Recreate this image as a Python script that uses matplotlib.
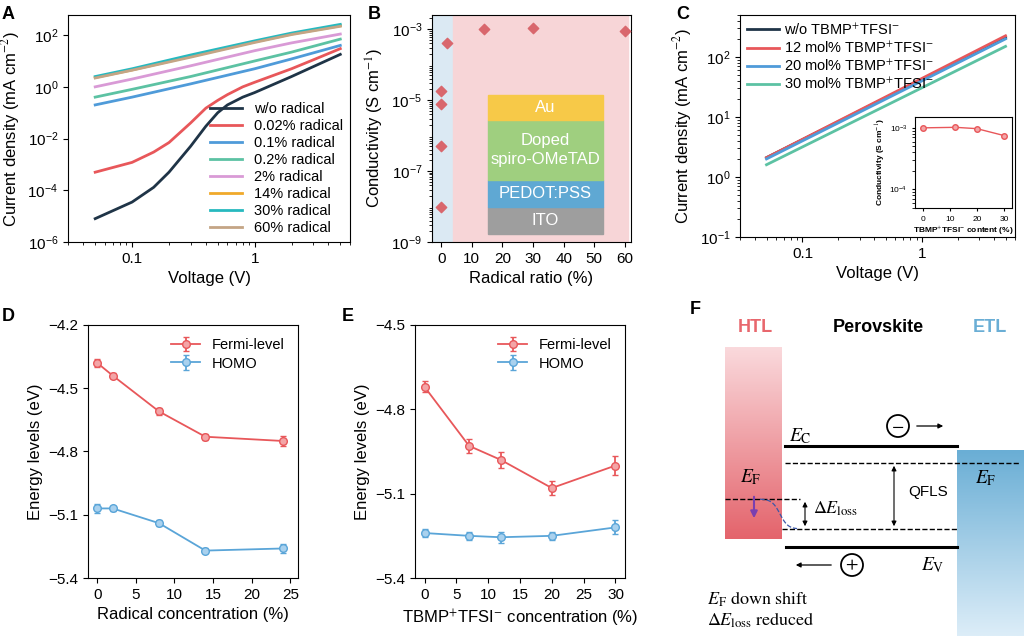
import numpy as np
import matplotlib
matplotlib.use('Agg')
import matplotlib.pyplot as plt
from matplotlib.patches import Rectangle, Circle

plt.rcParams['font.family'] = ['Liberation Sans', 'DejaVu Sans']
plt.rcParams['mathtext.fontset'] = 'stix'

# ---- panel A data
volt_a = [0.05, 0.1, 0.15, 0.2, 0.3, 0.4, 0.5, 0.6, 0.8, 1, 2, 3, 5]
j_wo = [8e-6, 3.5e-5, 1.3e-4, 5e-4, 5e-3, 3e-2, 0.1, 0.2, 0.4, 0.6, 2.5, 6, 18]
j_002 = [5e-4, 1.2e-3, 3e-3, 7e-3, 4e-2, 0.15, 0.3, 0.5, 1.0, 1.5, 5, 11, 30]
volt_lin = [0.05, 0.1, 0.3, 1, 2, 5]
j_01 = [0.2, 0.4, 1.3, 5, 12, 40]
j_02 = [0.4, 0.8, 2.5, 10, 22, 70]
j_2 = [1.0, 2.0, 6.5, 25, 50, 110]
j_14 = [2.3, 4.5, 15, 55, 110, 230]
j_30 = [2.5, 5.0, 17, 60, 120, 260]
j_60 = [2.2, 4.4, 14, 52, 105, 220]
labels_a = ['w/o radical', '0.02% radical', '0.1% radical', '0.2% radical',
            '2% radical', '14% radical', '30% radical', '60% radical']
colors_a = ['#1f3447', '#e8575a', '#4f9bd9', '#5cc2a3', '#d99ad6', '#f0a92a', '#27b9bf', '#c4a585']

# ---- panel B data
ratio_b = [0, 0, 0, 0, 2, 14, 30, 60]
cond_b = [1e-8, 5e-7, 8e-6, 1.8e-5, 4e-4, 1e-3, 1.1e-3, 9e-4]
layers = ['ITO', 'PEDOT:PSS', 'Doped\nspiro-OMeTAD', 'Au']
layer_colors = ['#9e9e9e', '#5fa8d3', '#9fcf7f', '#f7c948']

# ---- panel C data
volt_c = [0.05, 5]
jc_wo = [2.1, 210]
jc_12 = [2.1, 225]
jc_20 = [2.0, 200]
jc_30 = [1.6, 150]
labels_c = ['w/o TBMP$^{+}$TFSI$^{-}$', '12 mol% TBMP$^{+}$TFSI$^{-}$',
            '20 mol% TBMP$^{+}$TFSI$^{-}$', '30 mol% TBMP$^{+}$TFSI$^{-}$']
colors_c = ['#1f3447', '#e8575a', '#4f9bd9', '#5cc2a3']
inset_x = [0, 12, 20, 30]
inset_y = [1e-3, 1.02e-3, 9.7e-4, 7.5e-4]

# ---- panel D / E data
conc_d = [0, 2, 8, 14, 24]
fermi_d = [-4.38, -4.44, -4.61, -4.73, -4.75]
fermi_d_err = [0.02, 0.012, 0.018, 0.015, 0.025]
homo_d = [-5.07, -5.07, -5.14, -5.27, -5.26]
homo_d_err = [0.02, 0.012, 0.015, 0.01, 0.02]
conc_e = [0, 7, 12, 20, 30]
fermi_e = [-4.72, -4.93, -4.98, -5.08, -5.00]
fermi_e_err = [0.02, 0.025, 0.03, 0.025, 0.035]
homo_e = [-5.24, -5.25, -5.255, -5.25, -5.22]
homo_e_err = [0.015, 0.015, 0.02, 0.015, 0.025]

RED = '#e8575a'
BLUE = '#5aa5d8'

fig = plt.figure(figsize=(10.24, 6.36), dpi=100)


def ax_px(l, t, r, b):
    return fig.add_axes([l / 1024, 1 - b / 636, (r - l) / 1024, (b - t) / 636])


def letter(x, y, s):
    fig.text(x / 1024, 1 - y / 636, s, fontsize=13, fontweight='bold', va='top', ha='left')


# ---------------- A
ax = ax_px(68, 15, 350, 242)
ys = [j_wo, j_002, j_01, j_02, j_2, j_14, j_30, j_60]
for i, (y, lab, c) in enumerate(zip(ys, labels_a, colors_a)):
    xv = volt_a if i < 2 else volt_lin
    ax.plot(xv, y, color=c, lw=2, label=lab)
ax.set_xscale('log')
ax.set_yscale('log')
ax.set_xlim(0.03, 6)
ax.set_ylim(1e-6, 600)
ax.set_yticks([1e-6, 1e-4, 1e-2, 1, 1e2])
ax.set_xticks([0.1, 1])
ax.set_xticklabels(['0.1', '1'])
ax.set_xlabel('Voltage (V)', fontsize=12)
ax.set_ylabel('Current density (mA cm$^{-2}$)', fontsize=12)
ax.legend(loc='lower right', frameon=False, fontsize=10.5, handlelength=2.2,
          labelspacing=0.2, borderaxespad=0.1)
ax.tick_params(labelsize=11)
letter(2, 6, 'A')

# ---------------- B
ax = ax_px(432, 15, 631, 242)
ax.axvspan(-3, 4, color='#dbe9f3')
ax.axvspan(4, 61, color='#f7d5d7')
ax.scatter(ratio_b, cond_b, marker='D', s=28, color='#d9676d', zorder=3)
ax.set_yscale('log')
ax.set_xlim(-3, 62)
ax.set_ylim(1e-9, 2.5e-3)
ax.set_yticks([1e-9, 1e-7, 1e-5, 1e-3])
ax.set_xticks(range(0, 61, 10))
ax.set_xlabel('Radical ratio (%)', fontsize=12)
ax.set_ylabel('Conductivity (S cm$^{-1}$)', fontsize=12)
ax.tick_params(labelsize=11)
tops = [234, 207, 180, 120, 95]
for i, (name, c) in enumerate(zip(layers, layer_colors)):
    y0 = 1 - (tops[i] - 15) / 227
    y1 = 1 - (tops[i + 1] - 15) / 227
    x0 = (488 - 432) / 199
    x1 = (603 - 432) / 199
    ax.add_patch(Rectangle((x0, y0), x1 - x0, y1 - y0, transform=ax.transAxes,
                           color=c, zorder=4))
    ax.text((x0 + x1) / 2, (y0 + y1) / 2, name, transform=ax.transAxes, ha='center',
            va='center', color='white', fontsize=12, zorder=5, linespacing=1.3)
letter(368, 6, 'B')

# ---------------- C
ax = ax_px(740, 15, 1015, 237)
for y, lab, c in zip([jc_wo, jc_12, jc_20, jc_30], labels_c, colors_c):
    ax.plot(volt_c, y, color=c, lw=2, label=lab)
ax.set_xscale('log')
ax.set_yscale('log')
ax.set_xlim(0.03, 6)
ax.set_ylim(0.1, 500)
ax.set_xticks([0.1, 1])
ax.set_xticklabels(['0.1', '1'])
ax.set_xlabel('Voltage (V)', fontsize=12)
ax.set_ylabel('Current density (mA cm$^{-2}$)', fontsize=12)
ax.legend(loc='upper left', frameon=False, fontsize=10.5, handlelength=2.2,
          labelspacing=0.2, borderaxespad=0.1, handletextpad=0.3)
ax.tick_params(labelsize=11)
letter(676, 6, 'C')

ins = ax_px(915, 117, 1012, 208)
ins.plot(inset_x, inset_y, color=RED, marker='o', ms=4, mfc='#f3a5a7', lw=1)
ins.set_yscale('log')
ins.set_ylim(5e-5, 1.5e-3)
ins.set_xlim(-3, 33)
ins.set_yticks([1e-4, 1e-3])
ins.set_xticks([0, 10, 20, 30])
ins.tick_params(labelsize=6, length=2)
ins.set_xlabel('TBMP$^{+}$TFSI$^{-}$ content (%)', fontsize=6, fontweight='bold', labelpad=1)
ins.set_ylabel('Conductivity (S cm$^{-1}$)', fontsize=6, fontweight='bold', labelpad=1)


# ---------------- D, E
def energy(ax, x, f, fe, h, he, ylim, yt, xlim, xt, xlabel):
    ax.errorbar(x, f, yerr=fe, color=RED, marker='o', ms=5.5, mfc='#f3a5a7', lw=1.3,
                capsize=2, label='Fermi-level')
    ax.errorbar(x, h, yerr=he, color=BLUE, marker='o', ms=5.5, mfc='#a9d1ee', lw=1.3,
                capsize=2, label='HOMO')
    ax.set_ylim(*ylim)
    ax.set_yticks(yt)
    ax.set_xlim(*xlim)
    ax.set_xticks(xt)
    ax.set_xlabel(xlabel, fontsize=12)
    ax.set_ylabel('Energy levels (eV)', fontsize=12)
    ax.tick_params(labelsize=11)
    ax.legend(loc='upper right', frameon=False, fontsize=10.5, labelspacing=0.3)


ax = ax_px(88, 325, 298, 578)
energy(ax, conc_d, fermi_d, fermi_d_err, homo_d, homo_d_err, (-5.4, -4.2),
       [-5.4, -5.1, -4.8, -4.5, -4.2], (-1.2, 26), range(0, 26, 5),
       'Radical concentration (%)')
letter(2, 308, 'D')
ax = ax_px(415, 325, 625, 578)
energy(ax, conc_e, fermi_e, fermi_e_err, homo_e, homo_e_err, (-5.4, -4.5),
       [-5.4, -5.1, -4.8, -4.5], (-1.5, 31.5), range(0, 31, 5),
       'TBMP$^{+}$TFSI$^{-}$ concentration (%)')
letter(342, 308, 'E')

# ---------------- F (schematic, drawn in pixel coords)
ax = ax_px(680, 300, 1024, 636)
ax.set_xlim(680, 1024)
ax.set_ylim(636, 300)
ax.axis('off')
red_grad = np.linspace(0, 1, 100)[:, None]
ax.imshow(red_grad, cmap=matplotlib.colors.LinearSegmentedColormap.from_list(
    'r', ['#fad9dc', '#e4646c']), extent=(725, 782, 539, 347), aspect='auto', zorder=1)
ax.imshow(red_grad, cmap=matplotlib.colors.LinearSegmentedColormap.from_list(
    'b', ['#6aaed5', '#dcedf8']), extent=(957, 1024, 636, 450), aspect='auto', zorder=1)
ax.plot([785, 957], [446, 446], color='k', lw=2.2)
ax.plot([786, 957], [547, 547], color='k', lw=2.2)
ax.plot([785, 1020], [463, 463], 'k--', lw=1)
ax.plot([782, 957], [529, 529], 'k--', lw=1)
ax.plot([725, 800], [499, 499], 'k--', lw=1)
xs = np.linspace(760, 797, 30)
ax.plot(xs, 499 + 30 / (1 + np.exp(-(xs - 780) / 4)), color='#3b57a8', ls='--', lw=0.9)
ax.annotate('', xy=(754, 521), xytext=(754, 494),
            arrowprops=dict(arrowstyle='-|>', color='#7a3fb0', lw=1.5))
ax.annotate('', xy=(805, 529), xytext=(805, 499),
            arrowprops=dict(arrowstyle='<|-|>', color='k', lw=0.8, mutation_scale=7))
ax.annotate('', xy=(894, 529), xytext=(894, 463),
            arrowprops=dict(arrowstyle='<|-|>', color='k', lw=0.8, mutation_scale=7))
ax.annotate('', xy=(946, 426), xytext=(914, 426),
            arrowprops=dict(arrowstyle='-|>', color='k', lw=0.9, mutation_scale=7))
ax.annotate('', xy=(793, 565), xytext=(834, 565),
            arrowprops=dict(arrowstyle='-|>', color='k', lw=0.9, mutation_scale=7))
ax.add_patch(Circle((898, 426), 11, fill=False, lw=1.3))
ax.text(898, 426, '$-$', ha='center', va='center', fontsize=13)
ax.add_patch(Circle((852, 565), 11, fill=False, lw=1.3))
ax.text(852, 565, '$+$', ha='center', va='center', fontsize=13)
ax.text(690, 301, 'F', fontsize=13, fontweight='bold', va='top')
ax.text(755, 327, 'HTL', color='#e8676d', fontsize=13, fontweight='bold', ha='center', va='center')
ax.text(878, 327, 'Perovskite', color='k', fontsize=13, fontweight='bold', ha='center', va='center')
ax.text(990, 327, 'ETL', color='#6aaed5', fontsize=13, fontweight='bold', ha='center', va='center')
ax.text(789, 436, '$E_{\\mathrm{C}}$', fontsize=14, va='center')
ax.text(921, 565, '$E_{\\mathrm{V}}$', fontsize=14, va='center')
ax.text(740, 477, '$E_{\\mathrm{F}}$', fontsize=14, va='center')
ax.text(975, 478, '$E_{\\mathrm{F}}$', fontsize=14, va='center')
ax.text(813, 509, '$\\Delta E_{\\mathrm{loss}}$', fontsize=13, va='center')
ax.text(908, 492, 'QFLS', fontsize=11, va='center')
ax.text(707, 599, '$E_{\\mathrm{F}}$ down shift', fontsize=13, va='center',
        family=['STIXGeneral', 'DejaVu Serif'])
ax.text(707, 620, '$\\Delta E_{\\mathrm{loss}}$ reduced', fontsize=13, va='center',
        family=['STIXGeneral', 'DejaVu Serif'])

fig.savefig('out.png', dpi=100)
